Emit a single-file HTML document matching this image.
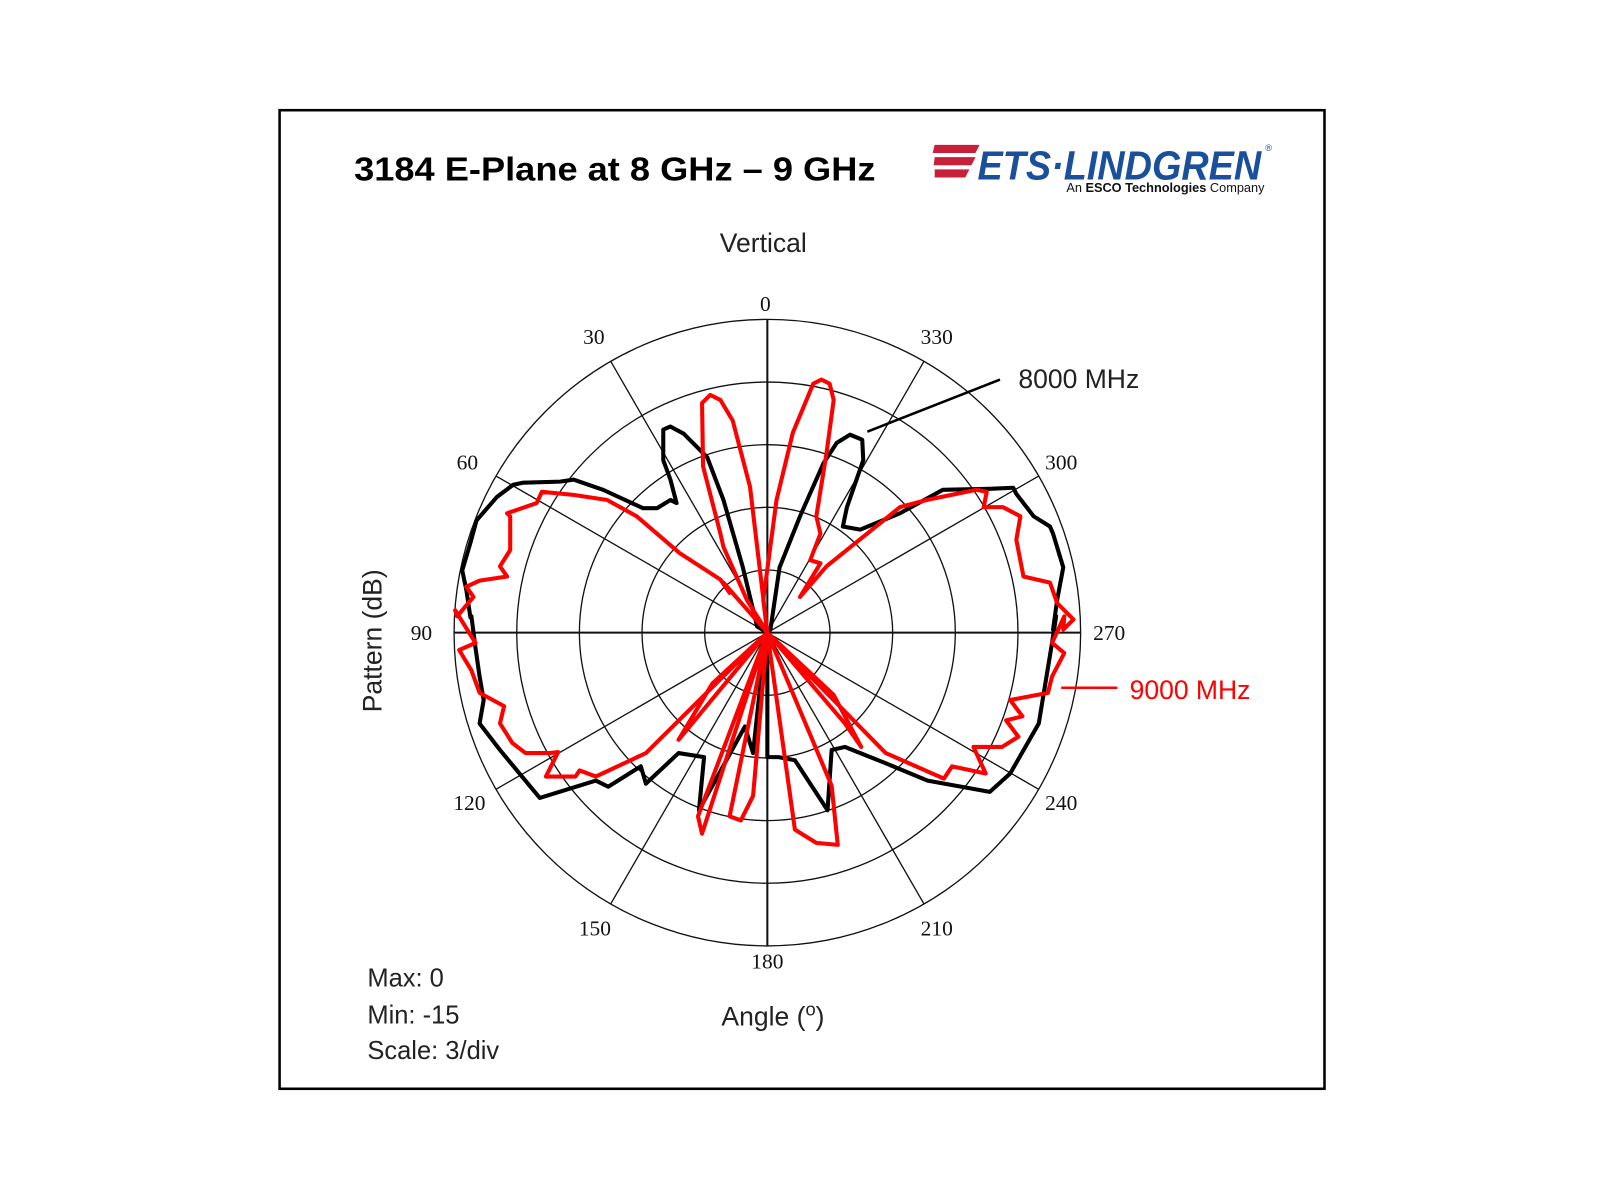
<!DOCTYPE html>
<html><head><meta charset="utf-8"><style>
html,body{margin:0;padding:0;background:#fff;}
svg{display:block;}
text{font-family:"Liberation Sans",Arial,sans-serif;}
.t text{font-family:"Liberation Serif","Times New Roman",serif;font-size:21px;fill:#111;text-anchor:middle;}
</style></head><body>
<svg width="1600" height="1200" viewBox="0 0 1568 1176" xmlns="http://www.w3.org/2000/svg">
<rect x="0" y="0" width="1568" height="1176" fill="#fff"/>
<rect x="274" y="108" width="1024" height="959" fill="none" stroke="#000" stroke-width="2.5"/>
<text x="347" y="177" font-size="33" font-weight="bold" fill="#000" textLength="511" lengthAdjust="spacingAndGlyphs">3184 E-Plane at 8 GHz – 9 GHz</text>
<!-- logo -->
<g fill="#c8203a">
<path d="M916 142 L960 142 L956 150 L914 150Z"/>
<path d="M916 154 L956 154 L952 162 L915 162Z"/>
<path d="M916 166 L950 166 L946 174 L916 174Z"/>
</g>
<text x="958" y="176" font-size="40" font-weight="bold" font-style="italic" fill="#1a4f9c" textLength="278" lengthAdjust="spacingAndGlyphs">ETS·LINDGREN</text>
<text x="1240" y="148" font-size="9" fill="#1a4f9c">®</text>
<text x="1045" y="188" font-size="12.5" fill="#111"><tspan>An </tspan><tspan font-weight="bold">ESCO Technologies</tspan><tspan> Company</tspan></text>
<text x="748" y="247" font-size="26" text-anchor="middle" fill="#222">Vertical</text>
<!-- grid -->
<g fill="none" stroke="#111" stroke-width="1.3">
<circle cx="752" cy="620" r="61.4"/><circle cx="752" cy="620" r="122.8"/><circle cx="752" cy="620" r="184.2"/><circle cx="752" cy="620" r="245.6"/><circle cx="752" cy="620" r="307"/>
<line x1="752" y1="313" x2="752" y2="927" stroke-width="2"/>
<line x1="445" y1="620" x2="1059" y2="620" stroke-width="2"/>
<line x1="598.5" y1="354.1" x2="905.5" y2="885.9"/>
<line x1="905.5" y1="354.1" x2="598.5" y2="885.9"/>
<line x1="486.1" y1="466.5" x2="1017.9" y2="773.5"/>
<line x1="1017.9" y1="466.5" x2="486.1" y2="773.5"/>
</g>
<g class="t">
<text x="750" y="305">0</text><text x="582" y="337">30</text><text x="918" y="337">330</text>
<text x="458" y="460">60</text><text x="1040" y="460">300</text>
<text x="413" y="627">90</text><text x="1087" y="627">270</text>
<text x="460" y="794">120</text><text x="1040" y="794">240</text>
<text x="583" y="917">150</text><text x="918" y="917">210</text>
<text x="752" y="949">180</text>
</g>
<!-- 8000 MHz black -->
<polyline fill="none" stroke="#000" stroke-width="4" stroke-linejoin="round" points="752,620 742,614 728,556 709,490 693,448 670,425 657,418 650,421 650,451 657,470 663,493 657,490 644,498 630,498 591,480 562,470 549,472 513,473 503,475 487,487 467,510 461,532 453,559 457,578 461,605 462,604 466,635 470,663 474,686 470,709 490,735 529,782 584,765 596,771 628,751 633,768 665,738 690,742 685,794 730,712 738,738 746,663 752,620 752,742 763,742 779,745 811,794 815,735 828,732 868,748 909,765 970,776 990,758 1018,709 1031,630 1035,604 1032,617 1036,588 1042,556 1032,523 1029,516 1013,506 996,484 993,478 970,479 924,480 882,503 843,519 826,516 830,497 846,451 845,431 833,426 820,434 807,454 784,506 764,556 755,617 752,620"/>
<!-- 9000 MHz red -->
<polyline fill="none" stroke="#f00" stroke-width="4" stroke-linejoin="round" points="752,620 732,588 709,536 706,523 689,457 688,395 696,387 706,392 718,412 735,477 752,620 748,588 761,490 777,424 797,376 805,372 813,376 817,392 810,444 800,506 804,523 794,549 804,552 784,585 810,555 882,497 908,490 957,480 967,482 964,497 983,497 1000,506 996,529 1003,565 1029,571 1036,591 1052,607 1042,617 1043,604 1031,630 1043,640 1031,663 1027,679 990,686 1002,702 986,706 998,722 982,732 954,732 966,758 933,751 925,763 868,738 752,620 817,681 844,732 828,709 752,620 815,770 821,828 800,826 779,813 752,620 738,780 726,804 715,800 752,620 700,780 688,817 684,800 752,620 698,670 665,725 752,620 633,738 584,761 568,755 564,761 535,761 547,737 539,738 515,738 502,728 490,709 494,692 470,679 462,657 450,637 466,630 446,598 448,604 464,585 457,575 470,569 497,565 490,555 500,539 500,506 497,503 526,493 531,482 562,485 595,490 624,506 666,542 706,568 715,581 709,571 752,620"/>
<!-- labels -->
<line x1="850" y1="423" x2="980" y2="372" stroke="#000" stroke-width="2.5"/>
<text x="998" y="380" font-size="26" fill="#222">8000 MHz</text>
<line x1="1040" y1="674" x2="1095" y2="674" stroke="#f00" stroke-width="2.5"/>
<text x="1107" y="685" font-size="26" fill="#f00">9000 MHz</text>
<text transform="translate(374,628) rotate(-90)" font-size="26" text-anchor="middle" fill="#222">Pattern (dB)</text>
<text x="707" y="1005" font-size="26" fill="#222">Angle (<tspan font-size="18" dy="-10">o</tspan><tspan dy="10">)</tspan></text>
<text x="360" y="967" font-size="25" fill="#222">Max: 0</text>
<text x="360" y="1003" font-size="25" fill="#222">Min: -15</text>
<text x="360" y="1038" font-size="25" fill="#222">Scale: 3/div</text>
</svg>
</body></html>
